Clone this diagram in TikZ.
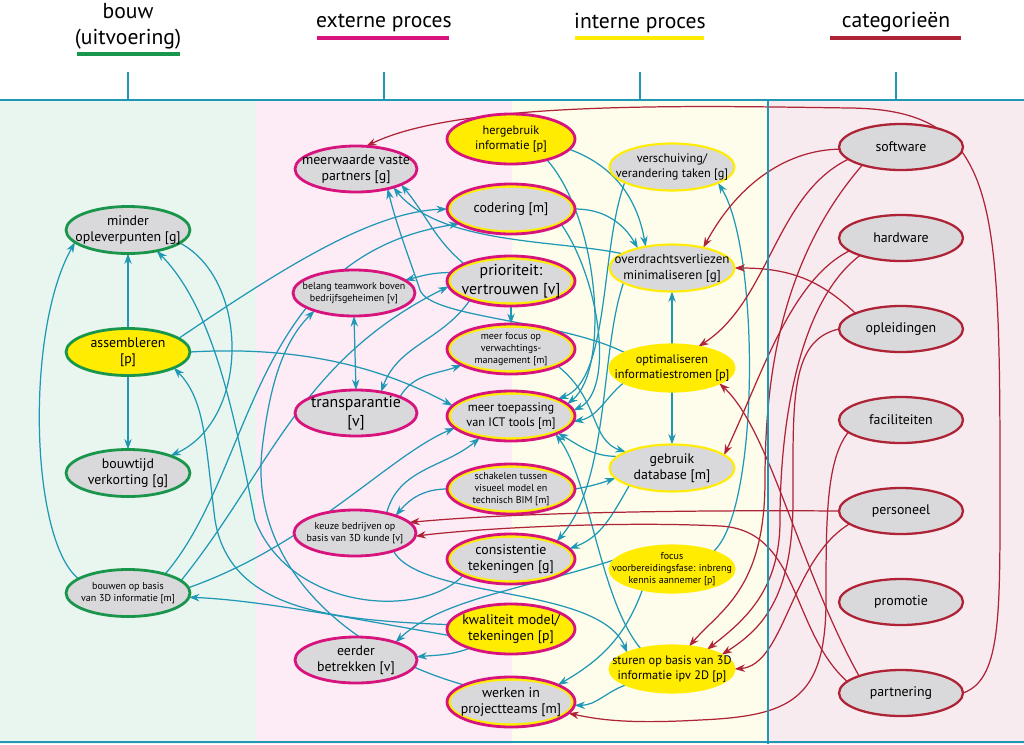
\documentclass[tikz,border=0pt]{standalone}
\usepackage{fontspec}
\setmainfont{PT Sans}
\usetikzlibrary{arrows.meta,shapes.geometric}
\definecolor{flowteal}{RGB}{30,152,181}
\definecolor{catred}{RGB}{175,35,55}
\definecolor{bouwgreen}{RGB}{25,150,75}
\definecolor{extmagenta}{RGB}{215,20,125}
\definecolor{intyellow}{RGB}{255,236,0}
\definecolor{nodegray}{RGB}{217,217,219}
\definecolor{bggreen}{RGB}{233,246,239}
\definecolor{bgpink}{RGB}{253,235,245}
\definecolor{bgyellow}{RGB}{254,253,236}
\definecolor{bgred}{RGB}{248,235,239}
\newcommand\bigtxt{\fontsize{7.9}{9.4}\selectfont}
\newcommand\hugetxt{\fontsize{9}{10.5}\selectfont}
\newcommand\midtxt{\fontsize{7}{8.2}\selectfont}
\newcommand\smalltxt{\fontsize{5.7}{7}\selectfont}
\newcommand\headtxt{\fontsize{12.3}{14.8}\selectfont}
\pgfdeclarelayer{back}
\pgfdeclarelayer{edges}
\pgfsetlayers{back,edges,main}

\begin{document}
\begin{tikzpicture}[x=0.02cm,y=0.02cm,>={Stealth[length=6pt,width=4.2pt]},
  blob/.style={ellipse,inner sep=-10pt,outer sep=0pt,align=center,font=\bigtxt,fill=nodegray,line width=1.6pt},
  bouw/.style={blob,draw=bouwgreen,minimum width=2.48cm,minimum height=0.94cm},
  extern/.style={blob,draw=extmagenta,minimum width=2.44cm,minimum height=0.92cm},
  mid/.style={blob,draw=extmagenta,fill=intyellow,minimum width=2.56cm,minimum height=1cm,
    path picture={\fill[nodegray] (path picture bounding box.center) ellipse (1.205cm and 0.425cm);}},
  midp/.style={blob,draw=extmagenta,fill=intyellow,minimum width=2.56cm,minimum height=1cm},
  intern/.style={blob,draw=intyellow,line width=1.2pt,minimum width=2.5cm,minimum height=0.94cm},
  internp/.style={intern,fill=intyellow},
  cat/.style={blob,draw=catred,line width=1.3pt,minimum width=2.48cm,minimum height=0.92cm},
  flow/.style={draw=flowteal,line width=0.7pt,->},
  link/.style={draw=catred,line width=0.7pt,->},
  head/.style={font=\headtxt,align=center}]
  \useasboundingbox (0,0) rectangle (1024,-744);

  % kolommen
  \begin{pgfonlayer}{back}
    \fill[bggreen] (0,-100) rectangle (256,-744);
    \fill[bgpink] (256,-100) rectangle (512,-744);
    \fill[bgyellow] (512,-100) rectangle (768,-744);
    \fill[bgred] (768,-100) rectangle (1024,-744);
  \end{pgfonlayer}
  \draw[flowteal,line width=1.5pt] (0,-100) -- (1024,-100);
  \draw[flowteal,line width=1.5pt] (768,-100) -- (768,-744);
  \draw[flowteal,line width=1.5pt] (0,-742) -- (1024,-742);
  \foreach \xx in {128,384,640,896}
    \draw[flowteal,line width=1.2pt] (\xx,-72) -- (\xx,-100);

  % koppen
  \node[head] (hbouw) at (128,-26) {bouw\\(uitvoering)};
  \draw[bouwgreen,line width=2.3pt] (77,-54) -- (180,-54);
  \node[head] (hext) at (384,-23) {externe proces};
  \draw[extmagenta,line width=2.3pt] (317,-38) -- (449,-38);
  \node[head] (hint) at (640,-23) {interne proces};
  \draw[intyellow,line width=2.3pt] (575,-38) -- (704,-38);
  \node[head] (hcat) at (896,-22) {categorieën};
  \draw[catred,line width=2.3pt] (830,-38) -- (961,-38);

  % bouw
  \node[bouw] (minder) at (128,-230) {minder\\opleverpunten [g]};
  \node[bouw,fill=intyellow] (assem) at (128,-352) {assembleren\\{[p]}};
  \node[bouw] (bouwtijd) at (128,-473) {bouwtijd\\verkorting [g]};
  \node[bouw,font=\smalltxt] (bouwen) at (128,-593) {bouwen op basis\\van 3D informatie [m]};

  % externe proces
  \node[extern] (meerw) at (356,-169) {meerwaarde vaste\\partners [g]};
  \node[extern,font=\smalltxt] (belang) at (354,-293) {belang teamwork boven\\bedrijfsgeheimen [v]};
  \node[extern,font=\hugetxt] (transp) at (356,-413) {transparantie\\{[v]}};
  \node[extern,font=\smalltxt] (keuze) at (355,-533) {keuze bedrijven op\\basis van 3D kunde [v]};
  \node[extern] (eerder) at (356,-660) {eerder\\betrekken [v]};

  \node[midp,font=\midtxt] (herg) at (511,-139) {hergebruik\\informatie [p]};
  \node[mid] (coder) at (511,-209) {codering [m]};
  \node[mid,font=\hugetxt] (prior) at (511,-281) {prioriteit:\\vertrouwen [v]};
  \node[mid,font=\smalltxt] (focus) at (511,-349) {meer focus op\\verwachtings-\\management [m]};
  \node[mid,font=\midtxt] (ict) at (511,-416) {meer toepassing\\van ICT tools [m]};
  \node[mid,font=\smalltxt] (schak) at (511,-489) {schakelen tussen\\visueel model en\\technisch BIM [m]};
  \node[mid] (consist) at (511,-559) {consistentie\\tekeningen [g]};
  \node[midp] (kwal) at (511,-629) {kwaliteit model/\\tekeningen [p]};
  \node[mid] (werken) at (511,-702) {werken in\\projectteams [m]};

  % interne proces
  \node[intern,font=\midtxt] (versch) at (672,-167) {verschuiving/\\verandering taken [g]};
  \node[intern,font=\fontsize{7.4}{9}\selectfont] (overdr) at (672,-268) {overdrachtsverliezen\\minimaliseren [g]};
  \node[internp,font=\midtxt] (optim) at (672,-368) {optimaliseren\\informatiestromen [p]};
  \node[intern] (gebruik) at (672,-468) {gebruik\\database [m]};
  \node[internp,font=\smalltxt] (voorb) at (672,-569) {focus\\voorbereidingsfase: inbreng\\kennis aannemer [p]};
  \node[internp,font=\midtxt] (sturen) at (672,-669) {sturen op basis van 3D\\informatie ipv 2D [p]};

  % categorieen
  \node[cat] (soft) at (901,-147) {software};
  \node[cat] (hard) at (901,-238) {hardware};
  \node[cat] (opleid) at (901,-329) {opleidingen};
  \node[cat] (facil) at (901,-420) {faciliteiten};
  \node[cat] (person) at (901,-511) {personeel};
  \node[cat] (promo) at (901,-602) {promotie};
  \node[cat] (partner) at (901,-693) {partnering};

  \begin{pgfonlayer}{edges}
  % relaties
  \draw[flow] (assem.north) -- (minder.south);
  \draw[flow] (assem.south) -- (bouwtijd.north);
  \draw[flow] (bouwen.164) .. controls (30,-540) and (25,-330) .. (minder.193);
  \draw[flow] (assem.15) .. controls (280,-270) and (370,-212) .. (coder.west);
  \draw[flow] (assem.east) .. controls (310,-345) and (390,-372) .. (ict.170);
  \draw[flow] (bouwen.27) .. controls (255,-470) and (250,-255) .. (coder.196);
  \draw[flow] (bouwen.5) .. controls (310,-545) and (390,-455) .. (ict.192);
  \draw[flow] (bouwen.13) .. controls (270,-470) and (300,-360) .. (prior.185);
  \draw[flow] (werken.160) .. controls (340,-650) and (250,-560) .. (262,-450)
    .. controls (270,-380) and (285,-340) .. (belang.204);
  \draw[flow] (prior.172) to[out=180,in=15] (belang.14);
  \draw[flow,<->] (belang.south) -- (transp.north);
  \draw[flow] (prior.205) to[out=235,in=70] (transp.40);
  \draw[flow] (prior.south) -- (focus.north);
  \draw[flow] (transp.20) to[out=60,in=200] (focus.198);
  \draw[flow] (prior.160) to[out=140,in=-50] (meerw.341);
  \draw[flow] (overdr.164) .. controls (560,-240) and (440,-245) .. (meerw.334);
  \draw[flow] (optim.162) .. controls (560,-320) and (430,-318) .. (420,-290)
    .. controls (410,-260) and (398,-230) .. (meerw.328);
  \draw[flow] (coder.east) to[out=0,in=120] (overdr.150);
  \draw[flow] (herg.350) to[out=-20,in=100] (overdr.141);
  \draw[flow] (herg.330) .. controls (600,-220) and (610,-370) .. (ict.12);
  \draw[flow] (coder.343) .. controls (600,-280) and (615,-390) .. (ict.5);
  \draw[flow] (versch.198) .. controls (600,-250) and (610,-380) .. (ict.20);
  \draw[flow] (optim.197) to[out=220,in=10] (ict.355);
  \draw[flow] (overdr.197) .. controls (600,-350) and (610,-480) .. (consist.21);
  \draw[flow] (gebruik.168) to[out=180,in=-30] (ict.340);
  \draw[flow] (schak.east) to[out=10,in=200] (gebruik.190);
  \draw[flow] (schak.west) to[out=180,in=50] (keuze.23);
  \draw[flow] (keuze.32) to[out=75,in=220] (ict.215);
  \draw[flow] (keuze.335) .. controls (420,-600) and (600,-585) .. (sturen.160);
  \draw[flow] (sturen.147) .. controls (600,-600) and (590,-480) .. (ict.338);
  \draw[flow] (gebruik.202) to[out=240,in=20] (consist.10);
  \draw[flow] (minder.346) .. controls (250,-280) and (250,-420) .. (bouwtijd.22);
  \draw[flow] (consist.199) .. controls (420,-620) and (290,-610) .. (255,-520)
    .. controls (235,-420) and (215,-310) .. (minder.324);
  \draw[flow] (kwal.176) .. controls (330,-620) and (230,-610) .. (215,-520)
    .. controls (205,-440) and (205,-400) .. (assem.341);
  \draw[flow] (kwal.186) .. controls (360,-620) and (260,-600) .. (bouwen.356);
  \draw[flow] (kwal.205) to[out=200,in=5] (eerder.3);
  \draw[flow] (voorb.171) .. controls (520,-590) and (440,-600) .. (eerder.24);
  \draw[flow] (voorb.215) to[out=250,in=30] (werken.20);
  \draw[flow] (sturen.199) to[out=200,in=0] (werken.357);
  \draw[flow] (voorb.23) .. controls (760,-510) and (760,-250) .. (versch.341);
  \draw[flow] (optim.north) -- (overdr.south);
  \draw[flow] (optim.south) -- (gebruik.north);
  \draw[flow] (focus.340) .. controls (600,-400) and (590,-440) .. (gebruik.161);

  \draw[link] (partner.east) .. controls (1000,-680) and (1000,-620) .. (1000,-500)
    .. controls (1000,-200) and (1000,-110) .. (850,-108)
    .. controls (700,-106) and (460,-100) .. (meerw.66);
  \draw[link] (soft.182) .. controls (790,-150) and (740,-180) .. (overdr.33);
  \draw[link] (soft.193) .. controls (775,-195) and (770,-300) .. (optim.39);
  \draw[link] (soft.205) .. controls (780,-260) and (765,-380) .. (765,-480)
    .. controls (765,-590) and (720,-610) .. (sturen.53);
  \draw[link] (hard.194) .. controls (790,-280) and (760,-380) .. (gebruik.14);
  \draw[link] (hard.203) .. controls (800,-300) and (780,-420) .. (780,-520)
    .. controls (780,-590) and (745,-620) .. (sturen.29);
  \draw[link] (opleid.161) .. controls (820,-280) and (790,-268) .. (overdr.east);
  \draw[link] (opleid.west) .. controls (790,-340) and (793,-400) .. (793,-500)
    .. controls (793,-600) and (760,-630) .. (sturen.16);
  \draw[link] (facil.193) .. controls (826,-460) and (826,-520) .. (826,-600)
    .. controls (826,-700) and (790,-716) .. (700,-720)
    .. controls (630,-724) and (600,-720) .. (werken.349);
  \draw[link] (person.west) .. controls (700,-510) and (520,-512) .. (keuze.11);
  \draw[link] (person.194) .. controls (790,-560) and (785,-665) .. (sturen.east);
  \draw[link] (partner.158) .. controls (800,-570) and (770,-430) .. (optim.342);
  \draw[link] (partner.168) .. controls (790,-630) and (800,-530) .. (720,-526)
    .. controls (620,-521) and (480,-528) .. (keuze.357);
  \end{pgfonlayer}
\end{tikzpicture}
\end{document}
